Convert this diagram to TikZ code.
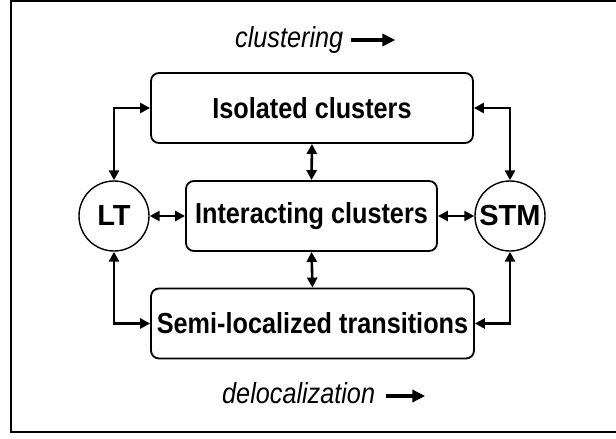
\documentclass[tikz,border=0pt]{standalone}
\usepackage{fontspec}
\setmainfont{Liberation Sans}[FakeStretch=0.87]
\newfontfamily\statefont{Liberation Sans}
\usetikzlibrary{arrows.meta,positioning}
\begin{document}
\begin{tikzpicture}[
  x=1pt, y=-1pt,
  box/.style={
    draw,
    rounded corners=8pt,
    line width=1.8pt,
    minimum height=70pt,
    inner sep=0pt,
    font=\fontsize{29}{33}\selectfont\bfseries
  },
  state/.style={
    draw,
    circle,
    line width=1.4pt,
    minimum size=70pt,
    inner sep=0pt,
    font=\statefont\fontsize{29}{33}\selectfont\bfseries
  },
  link/.style={
    {Triangle[length=10pt,width=10pt]}-{Triangle[length=10pt,width=10pt]},
    line width=2.6pt
  },
  note/.style={
    anchor=base west,
    inner sep=0pt,
    font=\fontsize{29}{33}\selectfont\itshape
  },
  trend/.style={
    -{Triangle[length=13pt,width=12pt]},
    line width=3.4pt
  }
]%
\useasboundingbox (0,0) rectangle (616,439);
\draw[line width=1.2pt] (618,1) -- (11,1) -- (11,432) -- (618,432);

% states at the sides
\node [state] (lt) at (114,216) {LT};
\node [state] (stm) at (510,216) {STM};

% the three regimes
\node [box, minimum width=322pt] (iso) at (312,108) {Isolated clusters};
\node [box, minimum width=251pt] (inter) at (311.5,216) {Interacting clusters};
\node [box, minimum width=323pt] (semi) at (312.5,323.5) {Semi-localized transitions};

\draw [link] (lt.north) |- (iso.west);
\draw [link] (iso.east) -| (stm.north);
\draw [link] (lt.south) |- (semi.west);
\draw [link] (semi.east) -| (stm.south);
\draw [link] (lt.east) -- (inter.west);
\draw [link] (inter.east) -- (stm.west);
\draw [link] (iso.south) -- (inter.north);
\draw [link] (inter.south) -- (semi.north);

% trends
\node [note] (clust) at (235,47) {clustering};
\coordinate (clust_from) at ([xshift=8pt,yshift=7pt]clust.base east);
\coordinate (clust_to) at ([xshift=52pt,yshift=7pt]clust.base east);
\draw [trend] (clust_from) -- (clust_to);

\node [note] (deloc) at (222,403) {delocalization};
\coordinate (deloc_from) at ([xshift=11pt,yshift=7pt]deloc.base east);
\coordinate (deloc_to) at ([xshift=50pt,yshift=7pt]deloc.base east);
\draw [trend] (deloc_from) -- (deloc_to);
\end{tikzpicture}
\end{document}
